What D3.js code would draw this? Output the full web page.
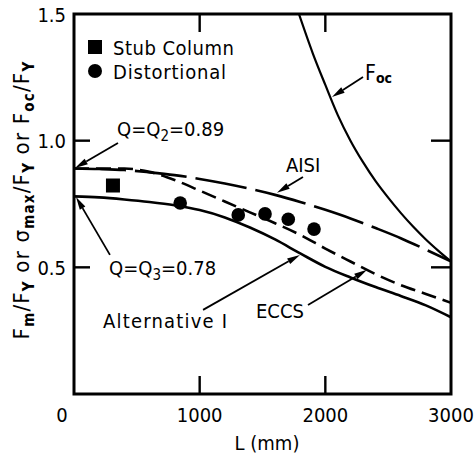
<!DOCTYPE html>
<html><head><meta charset="utf-8">
<script src="https://cdn.jsdelivr.net/npm/d3@7"></script>
<style>
body{margin:0;background:#fff;}
svg text{font-family:"DejaVu Sans Condensed","DejaVu Sans",sans-serif;font-stretch:condensed;fill:#000;}
</style></head><body>
<svg id="c" width="474" height="458"></svg>
<script>
// ---- data ----
const xTicks = [0, 1000, 2000, 3000];
const xTickLabels = ["0", "1000", "2000", "3000"];
const yTicks = [0.5, 1.0, 1.5];
const yTickLabels = ["0.5", "1.0", "1.5"];

const gridL = [0, 200, 400, 600, 800, 1000, 1200, 1400, 1600, 1800, 2000, 2200, 2400, 2600, 2800, 3000];
const aisi  = [0.89, 0.888, 0.884, 0.875, 0.864, 0.849, 0.831, 0.810, 0.786, 0.758, 0.727, 0.693, 0.655, 0.615, 0.570, 0.523];
const eccs  = [0.89, 0.89, 0.89, 0.877, 0.845, 0.803, 0.760, 0.717, 0.674, 0.628, 0.574, 0.523, 0.473, 0.430, 0.395, 0.360];
const altI  = [0.78, 0.776, 0.768, 0.758, 0.745, 0.726, 0.697, 0.657, 0.610, 0.555, 0.502, 0.460, 0.422, 0.387, 0.350, 0.303];

const focL = [1790, 1900, 2000, 2100, 2200, 2300, 2400, 2500, 2600, 2700, 2800, 2900, 3000];
const foc  = [1.50, 1.345, 1.22, 1.10, 1.00, 0.915, 0.84, 0.775, 0.715, 0.66, 0.61, 0.565, 0.523];

const stubL = [310];
const stubV = [0.823];
const distL = [845, 1307, 1520, 1705, 1910];
const distV = [0.754, 0.707, 0.711, 0.690, 0.651];

// ---- scales ----
const svg = d3.select("#c");
const x = d3.scaleLinear().domain([0, 3000]).range([74, 451]);
const y = d3.scaleLinear().domain([0, 1.5]).range([394, 14]);

svg.append("defs").append("clipPath").attr("id", "clip")
  .append("rect").attr("x", 74).attr("y", 14).attr("width", 377).attr("height", 380);

const plot = svg.append("g").attr("clip-path", "url(#clip)");
const line = d3.line().x(d => x(d[0])).y(d => y(d[1])).curve(d3.curveMonotoneX);

function series(Ls, vs) { return Ls.map((L, i) => [L, vs[i]]); }

plot.append("path").attr("d", line(series(gridL, altI)))
  .attr("fill", "none").attr("stroke", "#000").attr("stroke-width", 2.6);
plot.append("path").attr("d", line(series(gridL, eccs)))
  .attr("fill", "none").attr("stroke", "#000").attr("stroke-width", 2.6).attr("stroke-dasharray", "15,7");
plot.append("path").attr("d", line(series(gridL, aisi)))
  .attr("fill", "none").attr("stroke", "#000").attr("stroke-width", 2.6).attr("stroke-dasharray", "52,9");
plot.append("path").attr("d", line(series(focL, foc)))
  .attr("fill", "none").attr("stroke", "#000").attr("stroke-width", 2.2);

// points
svg.selectAll(".stub").data(series(stubL, stubV)).join("rect")
  .attr("x", d => x(d[0]) - 7).attr("y", d => y(d[1]) - 7).attr("width", 14).attr("height", 14).attr("fill", "#000");
svg.selectAll(".dist").data(series(distL, distV)).join("circle")
  .attr("cx", d => x(d[0])).attr("cy", d => y(d[1])).attr("r", 6.8).attr("fill", "#000");

// frame & ticks
svg.append("rect").attr("x", 74).attr("y", 14).attr("width", 377).attr("height", 380)
  .attr("fill", "none").attr("stroke", "#000").attr("stroke-width", 3);

const axG = svg.append("g");
const xIn = xTicks.filter(t => t > 0 && t < 3000);
const yIn = yTicks.filter(t => t > 0 && t < 1.5);
xIn.forEach(t => {
  axG.append("line").attr("x1", x(t)).attr("x2", x(t)).attr("y1", 394).attr("y2", 376);
  axG.append("line").attr("x1", x(t)).attr("x2", x(t)).attr("y1", 14).attr("y2", 32);
});
yIn.forEach(t => {
  axG.append("line").attr("x1", 74).attr("x2", 90).attr("y1", y(t)).attr("y2", y(t));
  axG.append("line").attr("x1", 451).attr("x2", 431).attr("y1", y(t)).attr("y2", y(t));
});
axG.selectAll("line").attr("stroke", "#000").attr("stroke-width", 2.4);

xTicks.forEach((t, i) => {
  svg.append("text").attr("x", x(t) + (t === 0 ? -12 : 0)).attr("y", 422)
    .attr("text-anchor", "middle").attr("font-size", 20).text(xTickLabels[i]);
});
yTicks.forEach((t, i) => {
  svg.append("text").attr("x", 66).attr("y", y(t) + 7.5)
    .attr("text-anchor", "end").attr("font-size", 20).text(yTickLabels[i]);
});

svg.append("text").attr("x", 267).attr("y", 450).attr("text-anchor", "middle")
  .attr("font-size", 20).text("L  (mm)");

// y title
const yt = svg.append("text").attr("transform", "translate(29,200) rotate(-90)")
  .attr("text-anchor", "middle").attr("font-size", 22).attr("letter-spacing", 1.2);
const parts = [["F",0],["m",1],["/F",0],["Y",1],[" or σ",0],["max",1],["/F",0],["Y",1],[" or F",0],["oc",1],["/F",0],["Y",1]];
let prevSub = false;
parts.forEach(([s, sub]) => {
  const ts = yt.append("tspan").text(s);
  if (sub && !prevSub) ts.attr("dy", 5).attr("font-size", 15).attr("font-weight", "bold");
  else if (!sub && prevSub) ts.attr("dy", -5);
  else if (sub) ts.attr("font-size", 15).attr("font-weight", "bold");
  prevSub = !!sub;
});

// legend
svg.append("rect").attr("x", 88).attr("y", 40).attr("width", 14).attr("height", 14).attr("fill", "#000");
svg.append("text").attr("x", 113).attr("y", 55).attr("font-size", 20).attr("letter-spacing", 0.5).text("Stub Column");
svg.append("circle").attr("cx", 95).attr("cy", 71).attr("r", 7).attr("fill", "#000");
svg.append("text").attr("x", 113).attr("y", 79).attr("font-size", 20).attr("letter-spacing", 0.8).text("Distortional");

// annotations: arrows defined in data units [tailL, tailV, tipL, tipV]
const arrows = [
  [2300, 1.251, 2053, 1.172],
  [1822, 0.857, 1615, 0.794],
  [350, 0.991, 8, 0.892],
  [286, 0.549, 16, 0.778],
  [1027, 0.332, 1798, 0.549],
  [1862, 0.351, 2332, 0.490]
];
const ag = svg.append("g");
arrows.forEach(a => {
  const x1 = x(a[0]), y1 = y(a[1]), x2 = x(a[2]), y2 = y(a[3]);
  const dx = x2 - x1, dy = y2 - y1, len = Math.hypot(dx, dy);
  const ux = dx / len, uy = dy / len, hl = 13, hw = 3.2;
  const bx = x2 - ux * hl, by = y2 - uy * hl;
  ag.append("line").attr("x1", x1).attr("y1", y1).attr("x2", bx).attr("y2", by)
    .attr("stroke", "#000").attr("stroke-width", 1.8);
  ag.append("path").attr("d", `M${x2},${y2}L${bx - uy * hw},${by + ux * hw}L${bx + uy * hw},${by - ux * hw}Z`)
    .attr("fill", "#000");
});

// labels
const foct = svg.append("text").attr("x", 365).attr("y", 80).attr("font-size", 21);
foct.append("tspan").text("F");
foct.append("tspan").attr("font-size", 14).attr("font-weight", "bold").attr("dy", 3).text("oc");
svg.append("text").attr("x", 286).attr("y", 172).attr("font-size", 20).text("AISI");
const q2 = svg.append("text").attr("x", 117).attr("y", 136).attr("font-size", 20);
q2.append("tspan").text("Q=Q");
q2.append("tspan").attr("font-size", 15).attr("dy", 5).text("2");
q2.append("tspan").attr("dy", -5).text("=0.89");
const q3 = svg.append("text").attr("x", 109).attr("y", 275).attr("font-size", 20);
q3.append("tspan").text("Q=Q");
q3.append("tspan").attr("font-size", 15).attr("dy", 5).text("3");
q3.append("tspan").attr("dy", -5).text("=0.78");
svg.append("text").attr("x", 103).attr("y", 328).attr("font-size", 20).attr("letter-spacing", 1.2).text("Alternative I");
svg.append("text").attr("x", 256).attr("y", 318).attr("font-size", 20).text("ECCS");
</script>
</body></html>
